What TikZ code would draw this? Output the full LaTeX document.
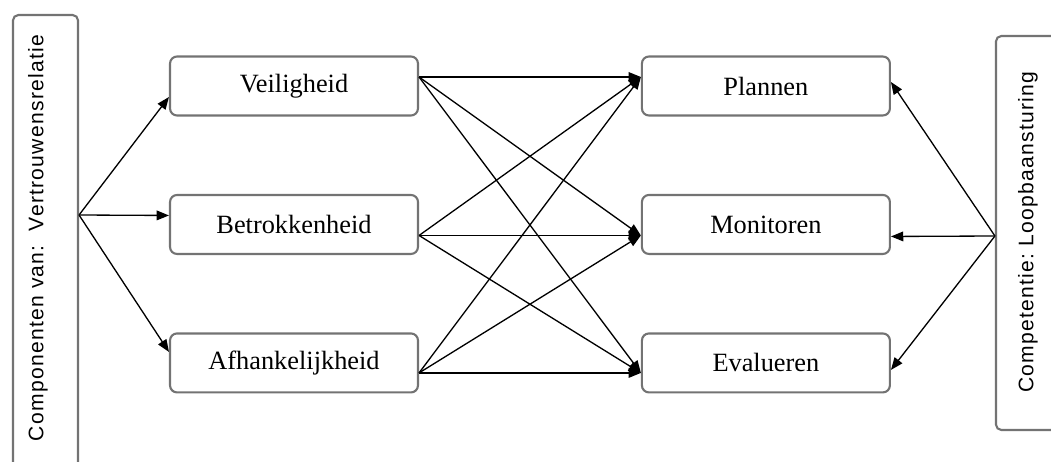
\documentclass[tikz,border=0pt]{standalone}
\usepackage{fontspec}
\setmainfont{Liberation Serif}
\newfontfamily\zijfont{Liberation Sans}[LetterSpace=6]
\usepackage{tikz}
\usetikzlibrary{positioning, arrows.meta, calc}

\begin{document}
\begin{tikzpicture}[x=0.02cm,y=-0.02cm,node distance=2.77cm,on grid,
    comp/.style={draw=gray!90!black,line width=1.2pt,rounded corners=4pt,minimum width=4.96cm,
      minimum height=1.18cm,font=\fontsize{15}{18}\selectfont},
    zijkant/.style={draw=gray!90!black,line width=1.2pt,rounded corners=3pt,minimum width=1.3cm},
    zijtekst/.style={rotate=90,font=\zijfont\fontsize{12}{14}\selectfont},
    pijl/.style={-{Triangle[length=7pt,width=5.5pt]},line width=0.75pt}]
       \clip (0,0) rectangle (1051,462);

       % componenten links, processen rechts
       \node[comp] (veil) at (294,86) {Veiligheid};
       \node[comp] (betr) [below=of veil] {Betrokkenheid};
       \node[comp] (afh) [below=of betr] {Afhankelijkheid};
       \node[comp] (plan) [right=9.44cm of veil] {Plannen};
       \node[comp] (moni) [right=9.44cm of betr] {Monitoren};
       \node[comp] (eval) [right=9.44cm of afh] {Evalueren};

       % zijbalken
       \node[zijkant,minimum height=9.2cm] (vertr) at (45.5,245) {};
       \node[zijtekst] (vertrtekst) at (38,238) {Componenten van:\ \ Vertrouwensrelatie};
       \node[zijkant,minimum height=7.88cm] (loop) at (1028.5,233) {};
       \node[zijtekst] (looptekst) at (1028,232) {Competentie:\ Loopbaansturing};

       \coordinate (links) at ($(vertr.east)+(0,-30)$);
       \coordinate (rechts) at ($(loop.west)+(0,3)$);
       \coordinate (vo) at ($(veil.east)+(0,-9)$);
       \coordinate (bo) at ($(betr.east)+(0,11)$);
       \coordinate (ao) at ($(afh.east)+(0,10)$);
       \coordinate (pi) at ($(plan.west)+(0,-9)$);
       \coordinate (mi) at ($(moni.west)+(0,11)$);
       \coordinate (ei) at ($(eval.west)+(0,10)$);

       \path[pijl]
       (links) edge ($(veil.west)+(0,11)$)
               edge ($(betr.west)+(0,-9)$)
               edge ($(afh.west)+(0,-11)$)
       (vo) edge (pi) edge (mi) edge (ei)
       (bo) edge (pi) edge (mi) edge (ei)
       (ao) edge (pi) edge (mi) edge (ei)
       (rechts) edge ($(plan.east)+(0,-4)$)
                edge ($(moni.east)+(0,12)$)
                edge ($(eval.east)+(0,7)$);
    \end{tikzpicture}
\end{document}
